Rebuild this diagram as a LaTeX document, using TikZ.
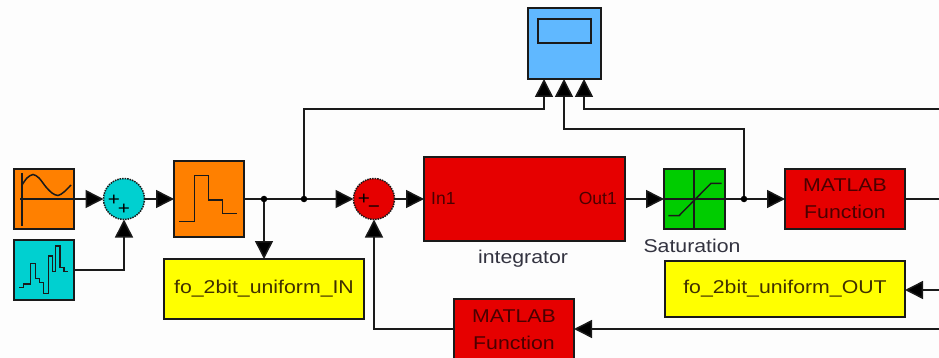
\documentclass[tikz,border=0pt]{standalone}
\usepackage{fontspec}
\setmainfont[FakeStretch=1.15]{Liberation Sans}
\newfontfamily\portfont{Liberation Sans}
\usetikzlibrary{arrows.meta}
\definecolor{bgc}{HTML}{FDFDFD}
\definecolor{orangeb}{HTML}{FF8000}
\definecolor{cyanb}{HTML}{00D0D0}
\definecolor{redb}{HTML}{E60000}
\definecolor{greenb}{HTML}{00CC00}
\definecolor{yellowb}{HTML}{FFFF00}
\definecolor{blueb}{HTML}{60B8FF}
\definecolor{edgec}{HTML}{1A1A1A}
\definecolor{ontext}{HTML}{4A0000}
\definecolor{yeltext}{HTML}{403000}
\definecolor{lbltext}{HTML}{333340}
\tikzset{
  x=1pt,y=-1pt,
  block/.style={draw=edgec,line width=1.5pt,inner sep=0pt,outer sep=0pt,rectangle,anchor=north west,align=center},
  sumb/.style={draw=edgec,line width=1.5pt,densely dotted,inner sep=0pt,outer sep=0pt,circle,minimum size=41pt},
  wire/.style={draw=edgec,line width=1.5pt},
  arr/.style={wire,-{Triangle[length=18pt,width=18pt,fill=black]}},
  icon/.style={draw=edgec,line width=1.5pt},
  dotj/.style={circle,fill=black,inner sep=0pt,minimum size=6.5pt},
  txt/.style={font=\fontsize{18.5}{20}\selectfont},
  port/.style={font=\portfont\fontsize{17.5}{19}\selectfont,text=ontext,inner sep=0pt},
  sgn/.style={inner sep=0pt,text=black,font=\fontsize{18}{18}\selectfont},
}
\begin{document}
\begin{tikzpicture}
\clip (0,0) rectangle (939,358);
\fill[bgc] (0,0) rectangle (939,358);
% blocks
\node[block,fill=orangeb,minimum width=60pt,minimum height=60pt] (sine) at (14,169) {};
\node[block,fill=cyanb,minimum width=60pt,minimum height=60pt] (rnd) at (14,240) {};
\node[sumb,fill=cyanb] (sa) at (124,199) {};
\node[block,fill=orangeb,minimum width=70pt,minimum height=76pt] (zoh) at (174,161) {};
\node[block,fill=yellowb,minimum width=200pt,minimum height=60pt,txt,text=yeltext] (yin) at (164,259) {fo\_2bit\_uniform\_IN};
\node[sumb,fill=redb] (sb) at (374,199) {};
\node[block,fill=redb,minimum width=201pt,minimum height=84pt] (integ) at (424,157) {};
\node[block,fill=greenb,minimum width=61pt,minimum height=60pt] (sat) at (664,169) {};
\node[block,fill=redb,minimum width=120pt,minimum height=60pt] (mfa) at (785,169) {};
\node[block,fill=yellowb,minimum width=240pt,minimum height=56pt,txt,text=yeltext] (yout) at (665,261) {fo\_2bit\_uniform\_OUT};
\node[block,fill=redb,minimum width=120pt,minimum height=70pt] (mfb) at (454,299) {};
\node[block,fill=blueb,minimum width=73pt,minimum height=71pt] (scope) at (528,8) {};
\node[block,fill=blueb,minimum width=53pt,minimum height=24pt] (scr) at (538,19) {};
% block texts
\node[txt,text=ontext,inner sep=0pt] (ta) at (845,185) {MATLAB};
\node[txt,text=ontext,inner sep=0pt] (tb) at (845,212) {Function};
\node[txt,text=ontext,inner sep=0pt] (tc) at (514,316) {MATLAB};
\node[txt,text=ontext,inner sep=0pt] (td) at (514,343) {Function};
\node[port,anchor=west] (tin) at (431,198) {In1};
\node[port,anchor=east] (tout) at (617,198) {Out1};
\node[txt,text=lbltext,inner sep=0pt] (lint) at (523,259) {integrator};
\node[txt,text=lbltext,inner sep=0pt] (lsat) at (692,246) {Saturation};
\node[sgn] (pa) at (114,200) {+};
\node[sgn] (pb) at (124,209) {+};
\node[sgn] (pc) at (364,199) {+};
\node[sgn] (pd) at (374,209) {−};
% icons
\draw[icon] (22,173) -- (22,226);
\draw[icon] (20,199) -- (sine.east);
\draw[icon] plot[smooth] coordinates {(22,185) (27,178) (33,174.5) (39,178) (46,187) (52,193) (58,195.5) (64,192) (71,185)};
\draw[icon] (19,287.3) -- (23.3,287.3) -- (23.3,284) -- (30.7,284) -- (30.7,263.3) -- (35.7,263.3) -- (35.7,278.3) -- (39.3,278.3) -- (39.3,282.7) -- (43.3,282.7) -- (43.3,293.3) -- (48.3,293.3) -- (48.3,256) -- (52.3,256) -- (52.3,271.7) -- (55.7,271.7) -- (55.7,246) -- (60,246) -- (60,267.3) -- (64,267.3) -- (64,271.7) -- (68.3,271.7);
\draw[icon] (179.3,221.3) -- (194.3,221.3) -- (194.3,175.3) -- (208.3,175.3) -- (208.3,200) -- (222.3,200) -- (222.3,213.3) -- (236.7,213.3);
\draw[icon] (694,169) -- (694,229) (664,199) -- (725,199);
\draw[icon] (668.3,215.7) -- (679,215.7) -- (711,183.3) -- (721.7,183.3);
% junctions and free ends
\node[dotj] (ja) at (264,199) {};
\node[dotj] (jb) at (304,199) {};
\node[dotj] (jc) at (744,199) {};
\coordinate (sca) at (544,79);
\coordinate (scb) at (564,79);
\coordinate (scc) at (584,79);
\coordinate (ea) at (939,199);
\coordinate (eb) at (939,109);
\coordinate (ec) at (939,290);
\coordinate (ed) at (939,329);
% connectors
\draw[arr] (sine.east) -- (sa.west);
\draw[arr] (rnd.east) -| (sa.south);
\draw[arr] (sa.east) -- (zoh.west |- sa);
\draw[wire] (zoh.east |- ja) -- (ja);
\draw[arr] (ja) -- (ja |- yin.north);
\draw[wire] (ja) -- (jb);
\draw[arr] (jb) -- (sb.west);
\draw[arr] (sb.east) -- (integ.west |- sb);
\draw[arr] (integ.east |- sat.west) -- (sat.west);
\draw[wire] (sat.east) -- (jc);
\draw[arr] (jc) -- (mfa.west);
\draw[wire] (mfa.east) -- (ea);
\draw[arr] (jb) |- (524,109) -| (sca);
\draw[arr] (jc) |- (564,129) -- (scb);
\draw[arr] (eb) -| (scc);
\draw[arr] (ec) -- (yout.east |- ec);
\draw[arr] (ed) -- (mfb.east |- ed);
\draw[arr] (mfb.west |- ed) -| (sb.south);
\end{tikzpicture}
\end{document}
